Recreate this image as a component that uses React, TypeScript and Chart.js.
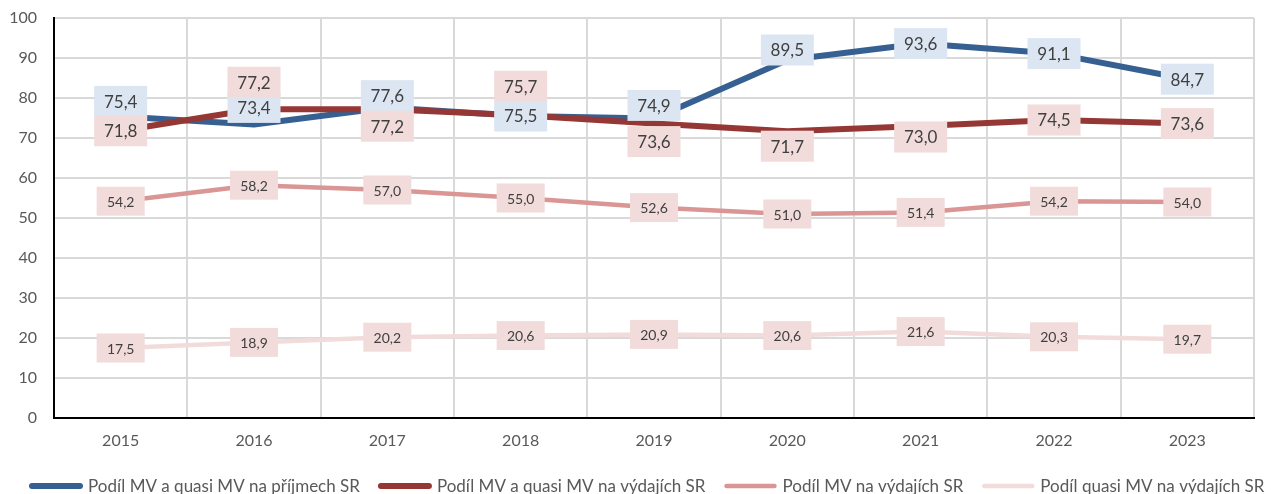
import React, { useEffect, useRef } from 'react';
import { Chart, registerables } from 'chart.js';

Chart.register(...registerables);

// ---- data ----
const years = ['2015', '2016', '2017', '2018', '2019', '2020', '2021', '2022', '2023'];
const seriesNames = [
  'Podíl MV a quasi MV na příjmech SR',
  'Podíl MV a quasi MV na výdajích SR',
  'Podíl MV na výdajích SR',
  'Podíl quasi MV na výdajích SR',
];
const podilPrijmy = [75.4, 73.4, 77.6, 75.5, 74.9, 89.5, 93.6, 91.1, 84.7];
const podilVydajeMvQuasi = [71.8, 77.2, 77.2, 75.7, 73.6, 71.7, 73.0, 74.5, 73.6];
const podilVydajeMv = [54.2, 58.2, 57.0, 55.0, 52.6, 51.0, 51.4, 54.2, 54.0];
const podilVydajeQuasi = [17.5, 18.9, 20.2, 20.6, 20.9, 20.6, 21.6, 20.3, 19.7];

// ---- label placement (vertical shift of data-label box, px) ----
const shiftPrijmy = [-15, -17, -12, 0, -13, -10, 0, 0, 0];
const shiftVydajeMvQuasi = [0, -27, 17, -29, 18, 15, 11, 0, 0];
const shiftZero = [0, 0, 0, 0, 0, 0, 0, 0, 0];

const FONT = 'Lato, "Open Sans", sans-serif';

const labelPlugin = {
  id: 'boxLabels',
  afterDatasetsDraw(chart: any) {
    const ctx = chart.ctx;
    chart.data.datasets.forEach((ds: any, i: number) => {
      const meta = chart.getDatasetMeta(i);
      const st = ds.labelStyle;
      meta.data.forEach((pt: any, j: number) => {
        const text = Number(ds.data[j]).toFixed(1).replace('.', ',');
        const x = pt.x;
        const y = pt.y + st.shift[j];
        ctx.save();
        ctx.fillStyle = st.bg;
        ctx.fillRect(x - st.w / 2, y - st.h / 2, st.w, st.h);
        ctx.fillStyle = '#404040';
        ctx.font = `${st.size}px ${FONT}`;
        ctx.textAlign = 'center';
        ctx.textBaseline = 'middle';
        ctx.fillText(text, x, y + 1);
        ctx.restore();
      });
    });
  },
};

const legendPlugin = {
  id: 'customLegend',
  afterDraw(chart: any) {
    const ctx = chart.ctx;
    const y = 486;
    let x = 29;
    ctx.save();
    ctx.font = `17px ${FONT}`;
    ctx.textBaseline = 'middle';
    ctx.textAlign = 'left';
    chart.data.datasets.forEach((ds: any) => {
      ctx.strokeStyle = ds.borderColor;
      ctx.lineWidth = ds.borderWidth;
      ctx.lineCap = 'round';
      ctx.beginPath();
      ctx.moveTo(x + 3, y);
      ctx.lineTo(x + 51, y);
      ctx.stroke();
      ctx.fillStyle = '#595959';
      ctx.fillText(ds.label, x + 59, y + 1);
      x += 59 + ctx.measureText(ds.label).width + 18;
    });
    ctx.restore();
  },
};

export default function App() {
  const ref = useRef<HTMLCanvasElement | null>(null);
  useEffect(() => {
    document.body.style.margin = '0';
    if (!ref.current) return;
    const chart = new Chart(ref.current, {
      type: 'line',
      data: {
        labels: years,
        datasets: [
          {
            label: seriesNames[0],
            data: podilPrijmy,
            borderColor: '#376092',
            borderWidth: 6,
            order: 1,
            labelStyle: { bg: '#dce6f2', w: 53, h: 31, size: 17, shift: shiftPrijmy },
          } as any,
          {
            label: seriesNames[1],
            data: podilVydajeMvQuasi,
            borderColor: '#953735',
            borderWidth: 6,
            order: 0,
            labelStyle: { bg: '#f2dcdb', w: 53, h: 31, size: 17, shift: shiftVydajeMvQuasi },
          } as any,
          {
            label: seriesNames[2],
            data: podilVydajeMv,
            borderColor: '#d99694',
            borderWidth: 4.5,
            order: 2,
            labelStyle: { bg: '#f2dcdb', w: 48, h: 29, size: 14, shift: shiftZero },
          } as any,
          {
            label: seriesNames[3],
            data: podilVydajeQuasi,
            borderColor: '#f2dcdb',
            borderWidth: 4.5,
            order: 3,
            labelStyle: { bg: '#f2dcdb', w: 48, h: 29, size: 14, shift: shiftZero },
          } as any,
        ],
      },
      options: {
        responsive: false,
        animation: false,
        layout: { padding: { top: 18, right: 17, bottom: 46, left: 0 } },
        elements: {
          line: { tension: 0, borderJoinStyle: 'round', borderCapStyle: 'round', fill: false },
          point: { radius: 0, hoverRadius: 0 },
        },
        plugins: {
          legend: { display: false },
          tooltip: { enabled: false },
        },
        scales: {
          x: {
            offset: true,
            grid: { offset: true, color: '#d9d9d9', lineWidth: 2, drawTicks: false },
            border: { color: '#000000', width: 2 },
            ticks: { color: '#595959', font: { family: FONT, size: 16 }, padding: 13 },
            afterFit: (s: any) => {
              s.height = 30;
            },
          },
          y: {
            min: 0,
            max: 100,
            grid: { color: '#d9d9d9', lineWidth: 2, drawTicks: false },
            border: { color: '#000000', width: 2 },
            ticks: { stepSize: 10, color: '#595959', font: { family: FONT, size: 16 }, padding: 17 },
            afterFit: (s: any) => {
              s.width = 54;
              s.paddingTop = 0;
              s.paddingBottom = 0;
            },
          },
        },
      },
      plugins: [labelPlugin, legendPlugin],
    });
    return () => chart.destroy();
  }, []);
  return (
    <div style={{ width: 1271, height: 494 }}>
      <canvas ref={ref} width={1271} height={494} />
    </div>
  );
}
